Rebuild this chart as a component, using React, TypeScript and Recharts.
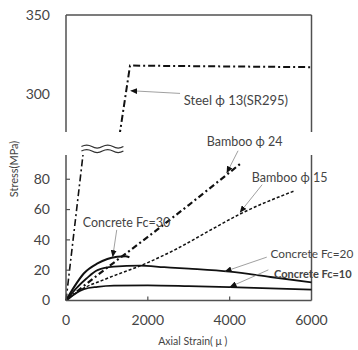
import React from 'react';
import { LineChart, Line, XAxis, YAxis, ReferenceLine, ReferenceDot, Label } from 'recharts';

// strain in micro (x), stress in MPa (y)
const steelStrain = [0, 415, 1320, 1565, 6000];
const steelStress = [0, 96, 276, 318, 317];

const bamboo24Strain = [0, 500, 1000, 2000, 3000, 4250];
const bamboo24Stress = [0, 11, 21.5, 42, 63, 90];

const bamboo15Strain = [0, 360, 1000, 2000, 2700, 3500, 4250, 5600];
const bamboo15Stress = [0, 7, 14.5, 25, 34, 46, 57, 72.5];

const fc30Strain = [0, 200, 440, 770, 1010, 1250, 1450, 1550];
const fc30Stress = [0, 9, 18, 24.5, 27.4, 28.8, 29.2, 28.5];

const fc20Strain = [0, 250, 500, 770, 1170, 1800, 2400, 3000, 4000, 5000, 6000];
const fc20Stress = [0, 8, 14.5, 20, 22.3, 23, 22, 21, 19, 15.5, 12];

const fc10Strain = [0, 200, 440, 770, 1170, 2000, 3000, 4000, 5000, 6000];
const fc10Stress = [0, 4, 7.5, 9, 9.8, 10, 9.5, 8.8, 8, 7.2];

const xTicks = [0, 2000, 4000, 6000];
const upperTicks = [300, 350];
const lowerTicks = [0, 20, 40, 60, 80];

const toPoints = (xs: number[], ys: number[]) => xs.map((x, i) => ({ x, y: ys[i] }));

const steel = toPoints(steelStrain, steelStress);
const bamboo24 = toPoints(bamboo24Strain, bamboo24Stress);
const bamboo15 = toPoints(bamboo15Strain, bamboo15Stress);
const fc30 = toPoints(fc30Strain, fc30Stress);
const fc20 = toPoints(fc20Strain, fc20Stress);
const fc10 = toPoints(fc10Strain, fc10Stress);

const axisColor = '#505050';
const textColor = '#444';
const lineColor = '#111';
const font = 'Lato, "Open Sans", sans-serif';

const W = 358;
const H = 350;

const YTick = ({ x, y, payload, inward }: any) => (
  <g>
    {inward && payload.value > 0 && (
      <line x1={x + 16} x2={x + 20} y1={y} y2={y} stroke={axisColor} strokeWidth={1.2} />
    )}
    <text x={x} y={y} dy="0.35em" textAnchor="end" fill={textColor} fontSize={14} fontFamily={font}>
      {payload.value}
    </text>
  </g>
);

const XTick = ({ x, y, payload }: any) => (
  <g>
    {payload.value > 0 && payload.value < 6000 && (
      <line x1={x} x2={x} y1={y - 20} y2={y - 24} stroke={axisColor} strokeWidth={1.2} />
    )}
    <text x={x} y={y} dy="0.35em" textAnchor="middle" fill={textColor} fontSize={14} fontFamily={font}>
      {payload.value}
    </text>
  </g>
);

const noteText = (text: string, size = 13, weight = 400) => (p: any) => (
  <text x={p.cx} y={p.cy} dy="0.35em" fill={textColor} fontSize={size} fontWeight={weight} fontFamily={font}>
    {text}
  </text>
);

const arrow = (p: any) => (
  <line x1={p.x1} y1={p.y1} x2={p.x2} y2={p.y2} stroke="#888" strokeWidth={0.8} markerEnd="url(#arrowHead)" />
);

const breakMark = (p: any) => (
  <g fill="none" stroke="#333" strokeWidth={1.2}>
    <path d={`M${p.cx - 21},${p.cy - 1.5} q5.25,-3 10.5,0 t10.5,0 t10.5,0 t10.5,0`} />
    <path d={`M${p.cx - 21},${p.cy + 3} q5.25,-3 10.5,0 t10.5,0 t10.5,0 t10.5,0`} />
  </g>
);

const ArrowDefs = () => (
  <defs>
    <marker id="arrowHead" markerWidth="7" markerHeight="6" refX="6.5" refY="3" orient="auto" markerUnits="userSpaceOnUse">
      <path d="M0,0 L7,3 L0,6 z" fill="#111" />
    </marker>
  </defs>
);

const UpperPanel = () => (
  <LineChart width={W} height={H} margin={{ top: 15, right: 46.5, bottom: 218, left: 0 }}>
    <ArrowDefs />
    <XAxis type="number" dataKey="x" domain={[0, 6000]} hide />
    <YAxis
      type="number"
      domain={[276, 350]}
      ticks={upperTicks}
      allowDataOverflow
      width={66}
      tickSize={0}
      tickMargin={16}
      tickLine={false}
      axisLine={{ stroke: axisColor, strokeWidth: 1.5 }}
      tick={<YTick />}
    />
    <ReferenceLine y={350} stroke={axisColor} strokeWidth={1.5} />
    <ReferenceLine x={6000} stroke={axisColor} strokeWidth={1.5} />
    <Line data={steel} dataKey="y" type="linear" stroke={lineColor} strokeWidth={2} strokeDasharray="7 3 2 3" dot={false} isAnimationActive={false} />
    <ReferenceLine segment={[{ x: 2787, y: 300.4 }, { x: 1582, y: 302.1 }]} ifOverflow="visible" shape={arrow} />
    <ReferenceDot x={2880} y={296.2} ifOverflow="visible" shape={noteText('Steel  \u03d5 13(SR295)')} />
  </LineChart>
);

const LowerPanel = () => (
  <LineChart width={W} height={H} margin={{ top: 155, right: 46.5, bottom: 0, left: 0 }}>
    <ArrowDefs />
    <XAxis
      type="number"
      dataKey="x"
      domain={[0, 6000]}
      ticks={xTicks}
      height={49.5}
      tickSize={0}
      tickMargin={20}
      tickLine={false}
      axisLine={{ stroke: axisColor, strokeWidth: 1.5 }}
      tick={<XTick />}
    >
      <Label
        content={({ viewBox }: any) => (
          <text
            x={viewBox.x + viewBox.width / 2 + 4}
            y={viewBox.y + 40.5}
            dy="0.35em"
            textAnchor="middle"
            fill={textColor}
            fontSize={10.5}
            fontFamily={font}
          >
            Axial Strain( {'\u03bc'} )
          </text>
        )}
      />
    </XAxis>
    <YAxis
      type="number"
      domain={[0, 96]}
      ticks={lowerTicks}
      allowDataOverflow
      width={66}
      tickSize={0}
      tickMargin={16}
      tickLine={false}
      axisLine={{ stroke: axisColor, strokeWidth: 1.5 }}
      tick={<YTick inward />}
    >
      <Label
        content={({ viewBox }: any) => (
          <text
            x={viewBox.x + 14}
            y={viewBox.y + 14}
            dy="0.35em"
            textAnchor="middle"
            transform={`rotate(-90 ${viewBox.x + 14} ${viewBox.y + 14})`}
            fill={textColor}
            fontSize={11}
            fontFamily={font}
          >
            Stress(MPa)
          </text>
        )}
      />
    </YAxis>
    <ReferenceLine x={6000} stroke={axisColor} strokeWidth={1.5} />

    <Line data={steel} dataKey="y" type="linear" stroke={lineColor} strokeWidth={1.6} strokeDasharray="7 3 2 3" dot={false} isAnimationActive={false} />
    <Line data={bamboo24} dataKey="y" type="monotone" stroke={lineColor} strokeWidth={2.2} strokeDasharray="6 3 2 3" dot={false} isAnimationActive={false} />
    <Line data={bamboo15} dataKey="y" type="monotone" stroke={lineColor} strokeWidth={1.5} strokeDasharray="3 2" dot={false} isAnimationActive={false} />
    <Line data={fc30} dataKey="y" type="monotone" stroke={lineColor} strokeWidth={2} dot={false} isAnimationActive={false} />
    <Line data={fc20} dataKey="y" type="monotone" stroke={lineColor} strokeWidth={1.8} dot={false} isAnimationActive={false} />
    <Line data={fc10} dataKey="y" type="monotone" stroke={lineColor} strokeWidth={1.8} dot={false} isAnimationActive={false} />

    <ReferenceDot x={890} y={100.6} ifOverflow="visible" shape={breakMark} />

    <ReferenceLine segment={[{ x: 4205, y: 98.8 }, { x: 3930, y: 84.2 }]} ifOverflow="visible" shape={arrow} />
    <ReferenceDot x={3440} y={105} ifOverflow="visible" shape={noteText('Bamboo \u03d5 24', 12.5)} />

    <ReferenceLine segment={[{ x: 4793, y: 76.4 }, { x: 4254, y: 58.2 }]} ifOverflow="visible" shape={arrow} />
    <ReferenceDot x={4540} y={80.8} ifOverflow="visible" shape={noteText('Bamboo \u03d5 15', 12.5)} />

    <ReferenceLine segment={[{ x: 1240, y: 46.6 }, { x: 1142, y: 28.9 }]} ifOverflow="visible" shape={arrow} />
    <ReferenceDot x={408} y={51.4} ifOverflow="visible" shape={noteText('Concrete Fc=30', 12.5)} />

    <ReferenceLine segment={[{ x: 4907, y: 28.6 }, { x: 3888, y: 19.2 }]} ifOverflow="visible" shape={arrow} />
    <ReferenceDot x={5000} y={30.5} ifOverflow="visible" shape={noteText('Concrete Fc=20', 11.8)} />

    <ReferenceLine segment={[{ x: 4946, y: 20.2 }, { x: 4010, y: 9.0 }]} ifOverflow="visible" shape={arrow} />
    <ReferenceDot x={5086} y={17.3} ifOverflow="visible" shape={noteText('Concrete Fc=10', 11, 700)} />
  </LineChart>
);

export default function App() {
  return (
    <div style={{ position: 'absolute', left: 0, top: 0, width: W, height: H, background: '#fff' }}>
      <div style={{ position: 'absolute', left: 0, top: 0 }}>
        <UpperPanel />
      </div>
      <div style={{ position: 'absolute', left: 0, top: 0 }}>
        <LowerPanel />
      </div>
    </div>
  );
}
